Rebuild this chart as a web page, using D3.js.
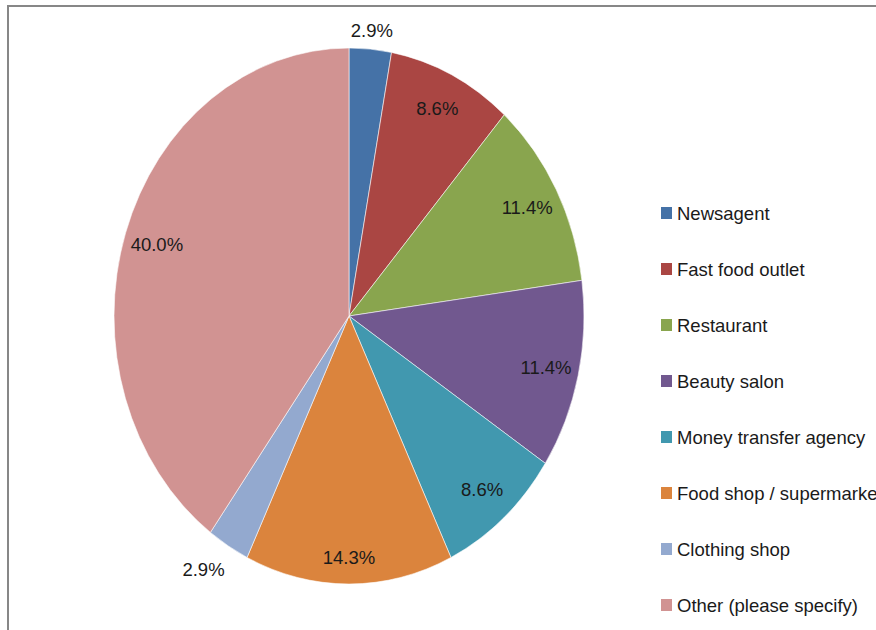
<!DOCTYPE html>
<html>
<head>
<meta charset="utf-8">
<script src="https://cdn.jsdelivr.net/npm/d3@7"></script>
<style>
  body { margin: 0; background: #fff; }
  svg { display: block; font-family: "Liberation Sans", Arial, sans-serif; }
</style>
</head>
<body>
<svg id="chart" width="876" height="630"></svg>
<script>
// shop types and share of respondents (%)
const categories = ["Newsagent", "Fast food outlet", "Restaurant", "Beauty salon",
    "Money transfer agency", "Food shop / supermarket", "Clothing shop", "Other (please specify)"];
const values = [2.9, 8.6, 11.4, 11.4, 8.6, 14.3, 2.9, 40.0];
const labels = ["2.9%", "8.6%", "11.4%", "11.4%", "8.6%", "14.3%", "2.9%", "40.0%"];
const colors = ["#4572A7", "#AA4643", "#89A54E", "#71588F", "#4198AF", "#DB843D", "#93A9CF", "#D19392"];

const svg = d3.select("#chart");

// outer frame (right / bottom run off the picture)
svg.append("rect")
    .attr("x", 8).attr("y", 6)
    .attr("width", 900).attr("height", 700)
    .attr("fill", "none")
    .attr("stroke", "#878787")
    .attr("stroke-width", 2);

const cx = 349, cy = 316;
const ry = 268, rx = 235;       // pie is squashed sideways in the source
const sx = rx / ry;

const pie = d3.pie().value(d => d).sort(null);
const arcs = pie(values);
const arc = d3.arc().innerRadius(0).outerRadius(ry);

const pieG = svg.append("g")
    .attr("transform", "translate(" + cx + "," + cy + ") scale(" + sx + ",1)");

pieG.selectAll("path")
    .data(arcs)
    .enter().append("path")
    .attr("d", arc)
    .attr("fill", (d, i) => colors[i])
    .attr("stroke", "#fff")
    .attr("stroke-width", 0.6);

// labels: inside the slice, small slices pushed outside
const labelG = svg.append("g")
    .attr("transform", "translate(" + cx + "," + cy + ")");

labelG.selectAll("text")
    .data(arcs)
    .enter().append("text")
    .each(function (d, i) {
        let a = (d.startAngle + d.endAngle) / 2;
        let f = 0.86;
        if (i === 0) f = 1.07;
        if (i === 5) f = 0.9;
        if (i === 6) { f = 1.13; a += 0.04; }
        d3.select(this)
            .attr("x", Math.sin(a) * ry * f * sx)
            .attr("y", -Math.cos(a) * ry * f);
    })
    .attr("text-anchor", "middle")
    .attr("dy", "0.36em")
    .attr("font-size", 18.5)
    .attr("fill", "#1a1a1a")
    .text((d, i) => labels[i]);

// legend
const legend = svg.append("g").attr("transform", "translate(661,213)");
const item = legend.selectAll("g")
    .data(categories)
    .enter().append("g")
    .attr("transform", (d, i) => "translate(0," + i * 56 + ")");

item.append("rect")
    .attr("x", 0).attr("y", -6)
    .attr("width", 11).attr("height", 12)
    .attr("fill", (d, i) => colors[i]);

item.append("text")
    .attr("x", 16)
    .attr("dy", "0.36em")
    .attr("font-size", 18.5)
    .attr("fill", "#1a1a1a")
    .text(d => d);
</script>
</body>
</html>
